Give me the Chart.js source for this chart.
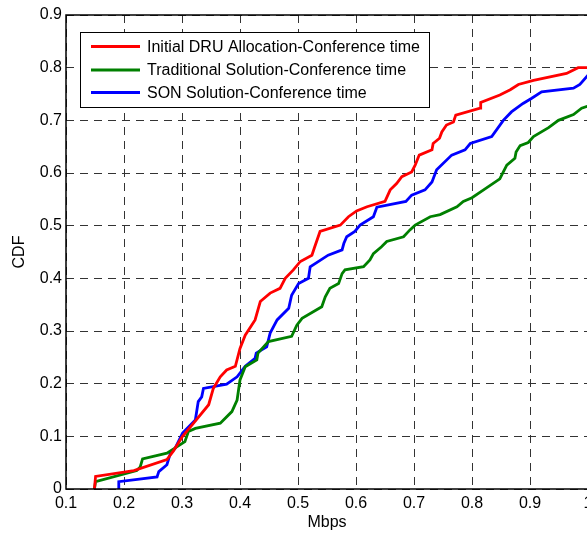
<!DOCTYPE html>
<html>
<head>
<meta charset="utf-8">
<script src="https://cdn.jsdelivr.net/npm/chart.js@4/dist/chart.umd.min.js"></script>
<style>
  html, body { margin: 0; padding: 0; background: #fff; overflow: hidden; }
  #wrap { width: 587px; height: 534px; overflow: hidden; }
</style>
</head>
<body>
<div id="wrap"><canvas id="grafik" width="600" height="534"></canvas></div>
<script>
// podaci ocitani sa slike (Mbps -> CDF)
const initialX = [0.149, 0.151, 0.217, 0.274, 0.285, 0.301, 0.320, 0.346, 0.354, 0.366, 0.377, 0.392, 0.400, 0.409, 0.426, 0.435, 0.452, 0.469, 0.478, 0.492, 0.504, 0.524, 0.528, 0.538, 0.573, 0.587, 0.601, 0.619, 0.650, 0.659, 0.670, 0.679, 0.696, 0.702, 0.709, 0.731, 0.733, 0.744, 0.748, 0.756, 0.768, 0.772, 0.814, 0.815, 0.848, 0.866, 0.880, 0.906, 0.963, 0.983, 1.000];
const initialY = [0, 0.024, 0.035, 0.056, 0.072, 0.100, 0.125, 0.160, 0.191, 0.213, 0.226, 0.233, 0.267, 0.292, 0.321, 0.356, 0.372, 0.381, 0.400, 0.416, 0.432, 0.444, 0.457, 0.489, 0.501, 0.517, 0.528, 0.536, 0.546, 0.568, 0.580, 0.593, 0.602, 0.615, 0.634, 0.644, 0.656, 0.666, 0.678, 0.691, 0.697, 0.710, 0.723, 0.734, 0.748, 0.758, 0.768, 0.776, 0.789, 0.800, 0.800];

const tradX = [0.149, 0.151, 0.222, 0.228, 0.232, 0.274, 0.291, 0.305, 0.311, 0.323, 0.366, 0.386, 0.395, 0.400, 0.409, 0.429, 0.431, 0.449, 0.489, 0.498, 0.507, 0.541, 0.547, 0.555, 0.570, 0.576, 0.581, 0.613, 0.624, 0.630, 0.644, 0.653, 0.682, 0.693, 0.702, 0.728, 0.745, 0.774, 0.785, 0.800, 0.820, 0.848, 0.854, 0.860, 0.874, 0.876, 0.883, 0.897, 0.906, 0.932, 0.949, 0.975, 0.989, 1.000];
const tradY = [0, 0.014, 0.035, 0.042, 0.057, 0.068, 0.080, 0.090, 0.109, 0.115, 0.125, 0.147, 0.169, 0.207, 0.232, 0.245, 0.258, 0.280, 0.290, 0.311, 0.324, 0.346, 0.365, 0.381, 0.390, 0.409, 0.416, 0.422, 0.435, 0.447, 0.460, 0.470, 0.479, 0.492, 0.501, 0.517, 0.521, 0.536, 0.546, 0.553, 0.568, 0.589, 0.602, 0.615, 0.628, 0.640, 0.652, 0.658, 0.669, 0.686, 0.700, 0.711, 0.723, 0.727];

const sonX = [0.191, 0.191, 0.257, 0.260, 0.274, 0.280, 0.288, 0.301, 0.323, 0.328, 0.334, 0.337, 0.377, 0.395, 0.409, 0.426, 0.428, 0.446, 0.452, 0.464, 0.484, 0.489, 0.501, 0.518, 0.521, 0.552, 0.576, 0.579, 0.584, 0.598, 0.607, 0.630, 0.636, 0.686, 0.696, 0.719, 0.731, 0.739, 0.765, 0.788, 0.797, 0.834, 0.854, 0.868, 0.888, 0.903, 0.920, 0.975, 0.986, 1.000];
const sonY = [0, 0.014, 0.023, 0.033, 0.046, 0.068, 0.077, 0.106, 0.131, 0.166, 0.175, 0.191, 0.199, 0.213, 0.233, 0.248, 0.258, 0.270, 0.296, 0.321, 0.343, 0.368, 0.390, 0.400, 0.422, 0.444, 0.454, 0.466, 0.479, 0.489, 0.501, 0.517, 0.535, 0.546, 0.558, 0.568, 0.583, 0.606, 0.634, 0.644, 0.656, 0.669, 0.700, 0.716, 0.732, 0.742, 0.754, 0.761, 0.768, 0.786];

const nazivi = [
  "Initial DRU Allocation-Conference time",
  "Traditional Solution-Conference time",
  "SON Solution-Conference time"
];
const boje = ["#ff0000", "#008000", "#0000ff"];

const font = "'Liberation Sans', Arial, sans-serif";

function tacke(xs, ys) {
  return xs.map((x, i) => ({ x: x, y: ys[i] }));
}

// okvir oko podrucja grafa
const okvir = {
  id: "okvir",
  afterDatasetsDraw(chart) {
    const a = chart.chartArea;
    const ctx = chart.ctx;
    ctx.save();
    ctx.strokeStyle = "#000";
    ctx.lineWidth = 1.5;
    ctx.strokeRect(a.left, a.top, a.right - a.left, a.bottom - a.top);
    ctx.restore();
  }
};

// legenda unutar grafa kao u MATLAB-u
const legenda = {
  id: "legenda",
  afterDraw(chart) {
    const ctx = chart.ctx;
    ctx.save();
    ctx.fillStyle = "#fff";
    ctx.fillRect(80, 32, 349, 75);
    ctx.strokeStyle = "#000";
    ctx.lineWidth = 1;
    ctx.strokeRect(80.5, 32.5, 349, 75);
    const redovi = [46.5, 70, 92.5];
    chart.data.datasets.forEach((ds, i) => {
      ctx.strokeStyle = ds.borderColor;
      ctx.lineWidth = 2.8;
      ctx.beginPath();
      ctx.moveTo(91, redovi[i]);
      ctx.lineTo(140, redovi[i]);
      ctx.stroke();
      ctx.fillStyle = "#000";
      ctx.font = "16px " + font;
      ctx.textBaseline = "middle";
      ctx.fillText(ds.label, 147, redovi[i] + 1);
    });
    ctx.restore();
  }
};

new Chart(document.getElementById("grafik").getContext("2d"), {
  type: "scatter",
  data: {
    datasets: [
      { label: nazivi[0], data: tacke(initialX, initialY), borderColor: boje[0] },
      { label: nazivi[1], data: tacke(tradX, tradY), borderColor: boje[1] },
      { label: nazivi[2], data: tacke(sonX, sonY), borderColor: boje[2] }
    ].map(ds => Object.assign(ds, {
      showLine: true,
      pointRadius: 0,
      borderWidth: 2.8,
      fill: false,
      tension: 0
    }))
  },
  options: {
    responsive: false,
    animation: false,
    layout: { padding: { top: 15, right: 12, left: 0, bottom: 0 } },
    plugins: {
      legend: { display: false },
      tooltip: { enabled: false }
    },
    scales: {
      x: {
        type: "linear",
        min: 0.1,
        max: 1.0,
        afterFit: s => { s.height = 45; },
        ticks: {
          stepSize: 0.1,
          color: "#000",
          padding: 5,
          maxRotation: 0,
          font: { family: font, size: 16 },
          callback: v => String(Math.round(v * 10) / 10)
        },
        grid: { color: "#333", lineWidth: 1, drawTicks: false },
        border: { display: false, dash: [8, 6] },
        title: {
          display: true,
          text: "Mbps",
          color: "#000",
          font: { family: font, size: 16 },
          padding: { top: 0, bottom: 2 }
        }
      },
      y: {
        min: 0,
        max: 0.9,
        afterFit: s => { s.width = 66; },
        ticks: {
          stepSize: 0.1,
          color: "#000",
          padding: 4,
          font: { family: font, size: 16 },
          callback: v => String(Math.round(v * 10) / 10)
        },
        grid: { color: "#333", lineWidth: 1, drawTicks: false },
        border: { display: false, dash: [8, 6] },
        title: {
          display: true,
          text: "CDF",
          color: "#000",
          font: { family: font, size: 16 },
          padding: { top: 10, bottom: 0 }
        }
      }
    }
  },
  plugins: [okvir, legenda]
});
</script>
</body>
</html>
